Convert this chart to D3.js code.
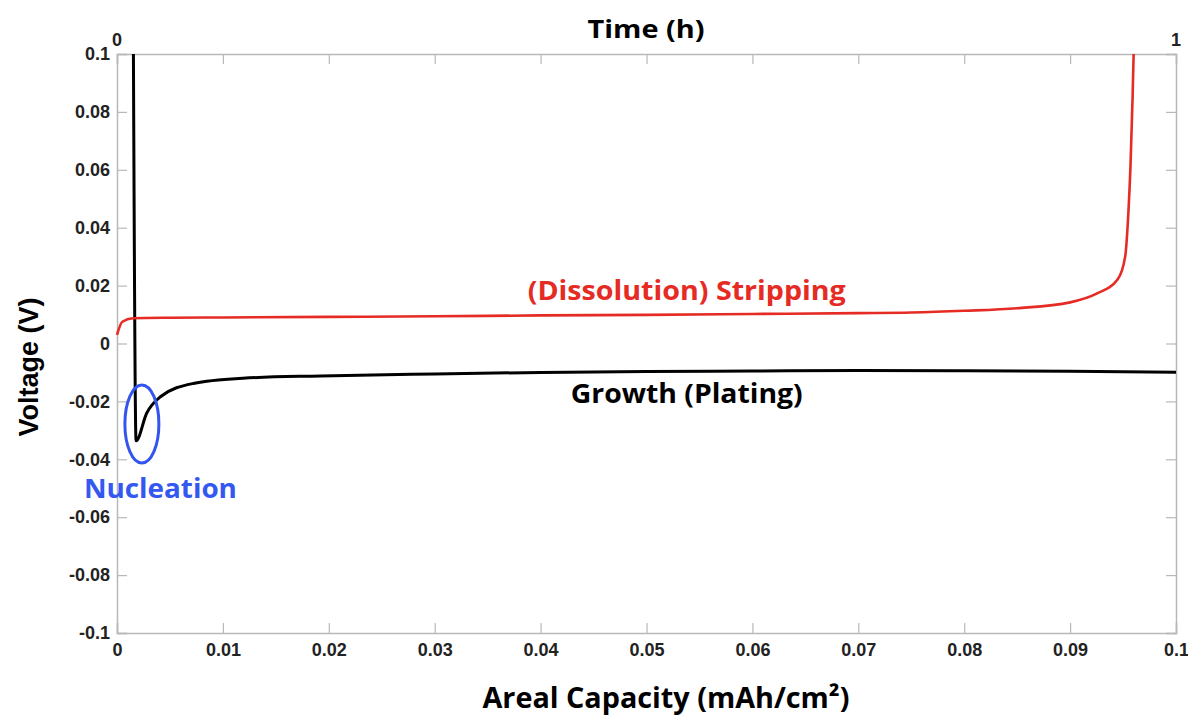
<!DOCTYPE html>
<html>
<head>
<meta charset="utf-8">
<script src="https://cdn.jsdelivr.net/npm/d3@7.9.0/dist/d3.min.js"></script>
<style>
  body { margin: 0; background: #fff; }
  .lbl { font-family: "Open Sans", sans-serif; font-weight: bold; }
</style>
</head>
<body>
<svg width="1188" height="716"></svg>
<script>
// stripping curve (red), capacity in mAh/cm2 vs voltage in V
const stripX = [0, 0.0005, 0.0015, 0.005, 0.01, 0.02, 0.03, 0.04, 0.05, 0.06, 0.07, 0.075, 0.08, 0.085, 0.09, 0.0925, 0.0945, 0.0952, 0.0955, 0.0957, 0.0959, 0.0960];
const stripV = [0.003, 0.0075, 0.0087, 0.0089, 0.0090, 0.0092, 0.0094, 0.0097, 0.0099, 0.0102, 0.0105, 0.0107, 0.0113, 0.0122, 0.0142, 0.0172, 0.0222, 0.030, 0.045, 0.061, 0.085, 0.1];

// plating curve (black)
const plateX = [0.00155, 0.0018, 0.0028, 0.0041, 0.0072, 0.0119, 0.0192, 0.03, 0.04, 0.05, 0.06, 0.07, 0.08, 0.09, 0.1];
const plateV = [0.1, -0.0336, -0.0241, -0.0184, -0.0138, -0.0120, -0.0112, -0.0105, -0.0100, -0.0097, -0.0095, -0.0093, -0.0094, -0.0096, -0.0099];

const xTicks = [0, 0.01, 0.02, 0.03, 0.04, 0.05, 0.06, 0.07, 0.08, 0.09, 0.1];
const yTicks = [-0.1, -0.08, -0.06, -0.04, -0.02, 0, 0.02, 0.04, 0.06, 0.08, 0.1];
const timeLabels = ['0', '1'];

const svg = d3.select('svg');
const m = { left: 117, top: 54, right: 12, bottom: 83 };
const W = 1188, H = 716;

const x = d3.scaleLinear().domain([0, 0.1]).range([m.left, W - m.right]);
const y = d3.scaleLinear().domain([-0.1, 0.1]).range([H - m.bottom, m.top]);

// matlab style labels: plain hyphen, no trailing zeros
const fmt = d => String(+d.toFixed(2));

const gx = svg.append('g').attr('transform', `translate(0,${y(-0.1)})`)
  .call(d3.axisBottom(x).tickValues(xTicks).tickSize(-10).tickPadding(10).tickFormat(fmt));
const gy = svg.append('g').attr('transform', `translate(${x(0)},0)`)
  .call(d3.axisLeft(y).tickValues(yTicks).tickSize(-10).tickPadding(7).tickFormat(fmt));
const gt = svg.append('g').attr('transform', `translate(0,${y(0.1)})`)
  .call(d3.axisTop(x).tickValues(xTicks).tickSize(-10).tickFormat(''));
const gr = svg.append('g').attr('transform', `translate(${x(0.1)},0)`)
  .call(d3.axisRight(y).tickValues(yTicks).tickSize(-10).tickFormat(''));

[gx, gy, gt, gr].forEach(g => {
  g.attr('font-family', '"Liberation Sans", Arial, sans-serif')
   .attr('font-size', 18).attr('font-weight', 'bold');
  g.select('.domain').attr('stroke', '#b8b8b8').attr('stroke-width', 1.5);
  g.selectAll('.tick line').attr('stroke', '#b8b8b8').attr('stroke-width', 1.2);
  g.selectAll('.tick text').attr('fill', '#222');
});

// time axis labels on top
const tScale = d3.scaleLinear().domain([0, 1]).range(x.range());
svg.selectAll('.tlab').data(timeLabels).join('text')
  .attr('class', 'tlab')
  .attr('x', d => tScale(+d)).attr('y', 46)
  .attr('text-anchor', 'middle')
  .attr('font-family', '"Liberation Sans", Arial, sans-serif')
  .attr('font-weight', 'bold').attr('font-size', 18).attr('fill', '#222')
  .text(d => d);

const line = d3.line().x(d => x(d[0])).y(d => y(d[1])).curve(d3.curveMonotoneX);

svg.append('path')
  .datum(d3.zip(plateX, plateV))
  .attr('d', line).attr('fill', 'none')
  .attr('stroke', '#000').attr('stroke-width', 3);

svg.append('path')
  .datum(d3.zip(stripX, stripV))
  .attr('d', line).attr('fill', 'none')
  .attr('stroke', '#e52b24').attr('stroke-width', 2.6);

// nucleation ellipse
svg.append('ellipse')
  .attr('cx', x(0.00235)).attr('cy', y(-0.0278))
  .attr('rx', 17).attr('ry', 39)
  .attr('fill', 'none').attr('stroke', '#3355ee').attr('stroke-width', 3);

// annotations
svg.append('text').attr('class', 'lbl')
  .attr('x', x(0.0041)).attr('y', y(-0.0534))
  .attr('text-anchor', 'middle').attr('font-size', 26)
  .attr('textLength', 153).attr('lengthAdjust', 'spacingAndGlyphs')
  .attr('fill', '#3458f0').text('Nucleation');

svg.append('text').attr('class', 'lbl')
  .attr('x', x(0.0538)).attr('y', y(0.0150))
  .attr('text-anchor', 'middle').attr('font-size', 26)
  .attr('textLength', 318).attr('lengthAdjust', 'spacingAndGlyphs')
  .attr('fill', '#e52b24').text('(Dissolution) Stripping');

svg.append('text').attr('class', 'lbl')
  .attr('x', x(0.0538)).attr('y', y(-0.0206))
  .attr('text-anchor', 'middle').attr('font-size', 26)
  .attr('textLength', 232).attr('lengthAdjust', 'spacingAndGlyphs')
  .attr('fill', '#000').text('Growth (Plating)');

// titles
svg.append('text').attr('class', 'lbl')
  .attr('x', 646).attr('y', 38).attr('text-anchor', 'middle').attr('font-size', 25)
  .attr('textLength', 117).attr('lengthAdjust', 'spacingAndGlyphs')
  .text('Time (h)');

svg.append('text').attr('class', 'lbl')
  .attr('x', 666).attr('y', 708).attr('text-anchor', 'middle').attr('font-size', 29)
  .attr('textLength', 367).attr('lengthAdjust', 'spacingAndGlyphs')
  .text('Areal Capacity (mAh/cm²)');

svg.append('text')
  .attr('transform', 'translate(38,367) rotate(-90)')
  .attr('text-anchor', 'middle')
  .attr('font-family', '"Liberation Sans", Arial, sans-serif')
  .attr('font-weight', 'bold').attr('font-size', 27)
  .text('Voltage (V)');
</script>
</body>
</html>
